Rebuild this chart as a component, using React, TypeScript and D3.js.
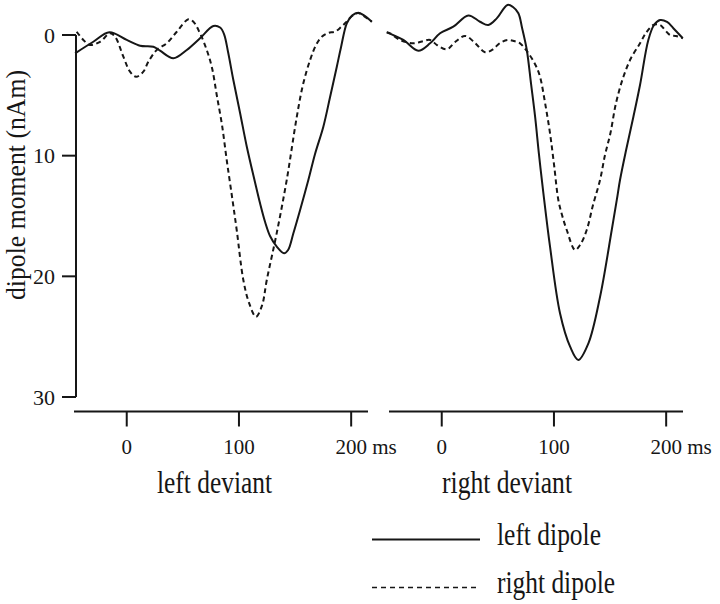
import React from 'react';
import * as d3 from 'd3';

// time (ms), dipole moment (nAm)
const msTicks = [0, 100, 200];
const yTicks = [0, 10, 20, 30];
const panelTitles = ['left deviant', 'right deviant'];
const seriesNames = ['left dipole', 'right dipole'];

const leftDevLeftDipole: [number, number][] = [
  [-46, 1.52], [-29.8, 0.56], [-15.5, -0.22], [0, 0.41], [11.9, 0.89], [23.7, 0.97],
  [29.7, 1.3], [41.5, 1.93], [53.5, 1.24], [65.3, 0.27], [77.2, -0.75], [83.2, -0.62],
  [86.7, -0.08], [90.3, 1.41], [95, 3.73], [101, 6.46], [107, 9.26], [114.3, 12.2],
  [118.8, 13.95], [123.3, 15.5], [127.7, 16.66], [133.7, 17.54], [140.2, 18.09],
  [143.8, 17.82], [148.5, 16.43], [154.5, 14.5], [161.9, 12.0], [167.8, 9.86],
  [175.2, 7.6], [181.2, 5.14], [187.2, 2.63], [191, 0.99], [196.1, -0.97],
  [200.8, -1.62], [206.4, -1.85], [212.4, -1.57], [218.4, -1.1],
];

const leftDevRightDipole: [number, number][] = [
  [-44.6, -0.27], [-38.7, 0.41], [-32.7, 0.83], [-23.8, 0.56], [-14.9, -0.14],
  [-10.4, 0.14], [-3, 1.8], [2.9, 3.04], [8.3, 3.46], [14.8, 3.04], [19.3, 2.21],
  [26.7, 1.24], [35.6, 0.69], [44.6, -0.27], [54.9, -1.3], [59.4, -1.1], [65.3, -0.14],
  [71.3, 1.24], [76, 2.73], [80.2, 4.97], [84.9, 7.46], [89.1, 10.36], [93.6, 13.26],
  [98, 16.16], [103.9, 20.3], [109, 22.2], [115.2, 23.35], [120.6, 22.4], [124.8, 20.3],
  [133.7, 16.4], [142.6, 12.0], [151.5, 6.8], [157.1, 4.1], [163.4, 2.07], [168.7, 0.83],
  [173.8, 0.14], [179.4, -0.17], [185.6, -0.28], [191, -0.66], [196, -1.1],
  [200.8, -1.57], [206.1, -1.82], [212.4, -1.49], [218.4, -1.1],
];

const rightDevLeftDipole: [number, number][] = [
  [-49, -0.22], [-34.2, 0.41], [-20.9, 1.3], [-10.4, 0.69], [-1.5, -0.14], [10.3, -0.69],
  [23.7, -1.62], [34.1, -1.1], [41.5, -0.83], [49, -1.38], [58.6, -2.49], [63.5, -2.32],
  [68.3, -1.8], [71.6, -0.58], [75.8, 1.24], [79.6, 4.06], [83.2, 6.77], [86.7, 9.94],
  [90.6, 13.12], [96.5, 17.54], [105.4, 23.06], [114.4, 25.83], [121.7, 26.93],
  [130.7, 25.55], [141.1, 21.69], [151.5, 16.16], [156, 13.67], [158.9, 12.0],
  [164.3, 9.53], [170.8, 6.77], [176.7, 4.14], [184.1, 0.41], [189.2, -0.83],
  [194.6, -1.24], [200.8, -1.08], [206.4, -0.56], [214.8, 0.27],
];

const rightDevRightDipole: [number, number][] = [
  [-49, -0.22], [-46, -0.14], [-37.2, 0.41], [-25.3, 0.69], [-17.6, 0.54], [-10.4, 0.41],
  [-4.2, 0.83], [4.5, 1.19], [11.9, 0.58], [20.8, 0.08], [29.7, 0.66], [38.6, 1.43],
  [44.8, 1.24], [52, 0.66], [58.6, 0.41], [64.4, 0.5], [69.8, 0.69], [75.1, 1.24],
  [80.2, 1.93], [84, 2.57], [87.6, 3.46], [92.1, 5.64], [96.5, 8.15], [100.1, 10.77],
  [103.9, 13.67], [107.2, 14.92], [111.4, 16.16], [118.8, 17.82], [123.3, 17.4],
  [129.2, 16.16], [134.8, 14.09], [141.1, 12.0], [145.5, 9.94], [150.3, 8.15],
  [155.3, 5.64], [161.9, 3.46], [168.7, 1.91], [176.7, 0.69], [182, -0.17],
  [188.6, -0.83], [194.6, -0.83], [199, -0.41], [203.5, 0], [208.8, 0.08], [214.8, 0.27],
];

const panels = [
  { title: panelTitles[0], range: [74, 368], titleX: 214.5, titleW: 115, data: [leftDevLeftDipole, leftDevRightDipole] },
  { title: panelTitles[1], range: [389, 683], titleX: 507, titleW: 130, data: [rightDevLeftDipole, rightDevRightDipole] },
];

const FONT = '"Liberation Serif", "Times New Roman", serif';
const INK = '#161616';

export default function App() {
  const y = d3.scaleLinear().domain([0, 30]).range([35, 397]);
  const axisX = 76;
  const xAxisY = 411.5;

  return (
    <svg width={720} height={604} style={{ position: 'absolute', left: 0, top: 0, background: '#fff' }} fontFamily={FONT}>
      <rect width={720} height={604} fill="#fff" />
      {/* Y axis */}
      <line x1={axisX} x2={axisX} y1={y(0)} y2={y(30)} stroke={INK} strokeWidth={2} />
      {yTicks.map((t) => (
        <g key={t}>
          <line x1={62} x2={axisX} y1={y(t)} y2={y(t)} stroke={INK} strokeWidth={2} />
          <text x={55} y={y(t) + 7.5} textAnchor="end" fontSize={22} fill={INK}>{t}</text>
        </g>
      ))}
      <text
        transform={`translate(25,185) rotate(-90)`}
        textAnchor="middle"
        fontSize={27}
        textLength={230}
        lengthAdjust="spacingAndGlyphs"
        fill={INK}
      >dipole moment (nAm)</text>

      {panels.map((p, pi) => {
        const x = d3.scaleLinear().domain([-47, 215]).range(p.range);
        const line = d3.line<[number, number]>()
          .x((d) => x(d[0]))
          .y((d) => y(d[1]))
          .curve(d3.curveCatmullRom.alpha(0.5));
        return (
          <g key={pi}>
            <line x1={p.range[0]} x2={p.range[1]} y1={xAxisY} y2={xAxisY} stroke={INK} strokeWidth={2} />
            {msTicks.map((t) => (
              <g key={t}>
                <line x1={x(t)} x2={x(t)} y1={xAxisY} y2={xAxisY + 15} stroke={INK} strokeWidth={2} />
                <text x={x(t)} y={454} textAnchor="middle" fontSize={21} fill={INK}>{t}</text>
                {t === msTicks[msTicks.length - 1] && (
                  <text x={x(t) + 21} y={454} textAnchor="start" fontSize={21} fill={INK}>ms</text>
                )}
              </g>
            ))}
            <text x={p.titleX} y={493} textAnchor="middle" fontSize={31} textLength={p.titleW} lengthAdjust="spacingAndGlyphs" fill={INK}>{p.title}</text>
            <path d={line(p.data[0]) || ''} fill="none" stroke={INK} strokeWidth={2} />
            <path d={line(p.data[1]) || ''} fill="none" stroke={INK} strokeWidth={2} strokeDasharray="5,3.5" />
          </g>
        );
      })}

      {/* legend */}
      <line x1={372} x2={480} y1={539.5} y2={539.5} stroke={INK} strokeWidth={2.2} />
      <text x={497} y={545} fontSize={31} textLength={104} lengthAdjust="spacingAndGlyphs" fill={INK}>{seriesNames[0]}</text>
      <line x1={372} x2={480} y1={587.5} y2={587.5} stroke={INK} strokeWidth={1.6} strokeDasharray="5,4" />
      <text x={497} y={593} fontSize={31} textLength={118} lengthAdjust="spacingAndGlyphs" fill={INK}>{seriesNames[1]}</text>
    </svg>
  );
}
